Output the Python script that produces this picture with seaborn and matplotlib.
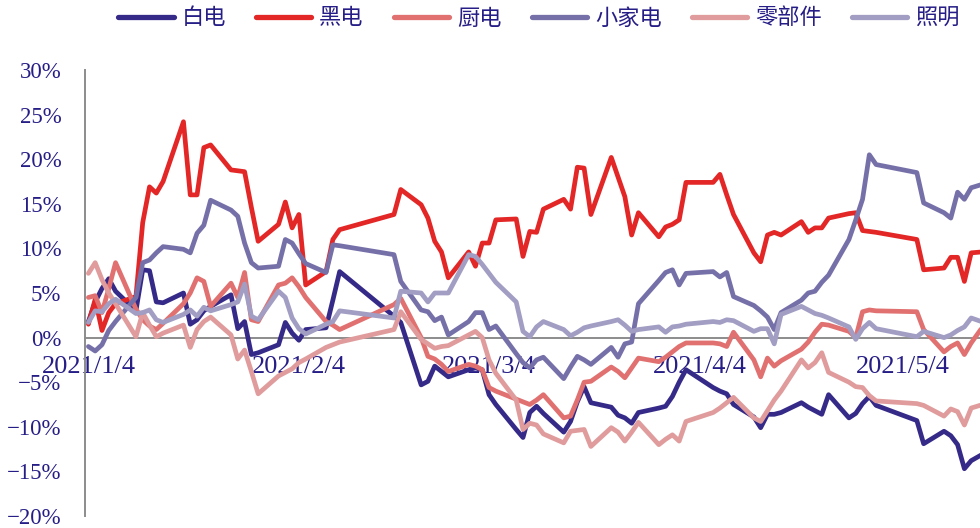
import matplotlib
matplotlib.use("Agg")
import matplotlib.pyplot as plt
from matplotlib.lines import Line2D
import pandas as pd
import seaborn as sns

# trading days 2021/1/4 - 2021/5/17 (A-share holidays removed)
holidays = ["2021-02-11", "2021-02-12", "2021-02-15", "2021-02-16", "2021-02-17",
            "2021-04-05", "2021-05-03", "2021-05-04", "2021-05-05"]
dates = pd.bdate_range("2021-01-04", "2021-05-17", freq="C", holidays=holidays)

# cumulative return, %
baidian = [1.8, 4.0, 5.5, 6.6, 5.2, 3.0, 7.6, 7.5, 4.0, 3.9, 5.0, 1.5, 2.0, 3.0, 3.5, 4.8, 1.0, 1.8, -1.9, -1.7,
           -0.8, 1.7, 0.5, -0.3, 0.9, 1.1, 4.2, 7.4, 2.4, 1.7, -5.3, -4.9, -3.2, -3.8, -4.4,
           -3.6, -3.4, -3.6, -6.4, -7.5, -10.3, -11.2, -8.4, -7.7, -8.5, -10.6, -9.4, -7.2, -5.5, -7.3, -7.8, -8.7, -9.0, -9.6, -8.4, -7.9, -7.7, -6.6,
           -5.0, -3.6, -5.6, -6.0, -6.3, -7.5, -8.9, -10.1, -8.6, -8.6, -8.4, -7.3, -7.8, -8.2, -8.6, -6.4, -9.0, -8.5, -7.4, -6.6, -7.6,
           -9.3, -11.9, -10.5, -11.0, -12.0, -14.7, -13.8, -12.5]
heidian = [1.5, 4.3, 0.8, 2.8, 3.8, 4.6, 12.9, 16.9, 16.2, 17.5, 24.2, 16.0, 16.0, 21.3, 21.6, 18.8, 18.7, 18.6, 14.6, 10.8,
           12.7, 15.2, 12.3, 13.8, 5.9, 7.4, 11.0, 12.1, 13.8, 16.6, 14.9, 13.4, 10.8, 9.6, 6.7,
           9.6, 8.0, 10.6, 10.6, 13.2, 13.3, 9.1, 11.9, 11.8, 14.4, 15.5, 14.4, 19.1, 19.0, 13.8, 20.2, 18.0, 15.8, 11.5, 14.0, 11.3, 12.4, 12.7,
           13.2, 17.4, 17.4, 18.3, 16.0, 13.8, 9.5, 8.5, 11.5, 11.8, 11.5, 13.0, 11.8, 12.3, 12.3, 13.4, 13.9, 14.0, 12.0, 11.9, 11.8,
           11.0, 7.6, 7.8, 9.0, 9.0, 6.3, 9.5, 9.7]
chudian = [4.5, 4.7, 2.8, 5.5, 8.4, 3.2, 2.0, 1.3, 0.9, 1.6, 3.8, 5.0, 6.7, 6.3, 3.5, 6.1, 4.5, 7.3, 2.0, 1.8,
           5.9, 6.1, 6.7, 5.7, 4.5, 1.8, 1.4, 0.9, 3.7, 4.4, 0.0, -2.1, -2.4, -3.0, -3.8,
           -3.0, -3.2, -3.6, -5.6, -6.0, -6.9, -7.2, -7.5, -7.0, -6.4, -9.0, -8.8, -7.0, -5.0, -4.9, -3.3, -3.8, -4.5, -3.4, -2.3, -2.7, -2.2, -1.6,
           -1.0, -0.6, -0.6, -0.7, -1.0, 0.6, -2.5, -4.4, -2.3, -3.2, -2.6, -1.3, -0.5, 0.6, 1.5, 1.4, 0.7, 0.0, 2.9, 3.1, 3.0,
           2.9, 0.9, -1.6, -1.0, -0.6, -1.9, -0.6, 2.6]
xiaojiadian = [-1.0, -1.5, -0.8, 0.8, 1.8, 4.5, 8.4, 8.7, 9.5, 10.2, 9.9, 9.5, 11.7, 12.6, 15.4, 14.3, 13.6, 10.6, 8.4, 7.8,
               8.0, 11.0, 10.6, 9.4, 8.3, 7.3, 10.4, 10.3, 9.3, 6.3, 3.1, 2.9, 1.9, 2.3, 0.3,
               1.8, 2.8, 2.8, 0.9, 1.3, -1.8, -2.8, -3.4, -2.5, -2.2, -4.6, -3.3, -2.1, -2.5, -3.0, -1.1, -2.2, -0.7, -0.5, 3.8, 6.4, 7.3, 7.6,
               5.9, 7.2, 7.4, 6.8, 7.3, 4.6, 3.6, 3.0, 2.3, 0.9, 2.8, 4.2, 5.0, 5.2, 6.2, 7.0, 11.0, 13.2, 15.5, 20.5, 19.4,
               18.5, 15.1, 14.0, 13.4, 16.3, 15.5, 16.8, 17.5]
lingbujian = [7.2, 8.4, 6.5, 5.0, 3.8, 0.1, 2.8, 1.4, 0.1, 0.5, 1.4, -1.1, 0.9, 1.8, 2.3, 0.3, -2.4, -1.4, -3.8, -6.3,
              -4.3, -3.9, -3.5, -2.8, -2.4, -1.1, -0.8, -0.5, 0.9, 2.9, -0.2, -0.7, -1.2, -1.0, -0.9,
              0.3, 0.7, 0.0, -2.5, -4.0, -7.0, -10.3, -9.6, -9.8, -10.8, -11.8, -10.5, -10.4, -10.3, -12.2, -10.1, -10.6, -11.6, -10.6, -9.5, -12.0, -11.4, -10.9,
              -11.6, -9.4, -8.4, -7.9, -7.3, -6.7, -9.0, -9.4, -8.2, -7.0, -6.0, -2.5, -3.4, -2.8, -1.7, -3.9, -5.0, -5.5, -5.6, -6.5, -7.1,
              -7.4, -7.6, -8.8, -8.0, -8.3, -9.8, -7.9, -7.2]
zhaoming = [1.7, 3.0, 2.9, 3.8, 4.3, 2.7, 2.8, 3.1, 2.0, 1.7, 2.6, 3.1, 2.4, 3.4, 3.0, 3.7, 4.0, 6.0, 2.4, 2.0,
            5.2, 4.5, 2.2, 1.0, 0.4, 1.5, 1.8, 3.0, 2.2, 5.2, 5.0, 4.0, 5.0, 5.0, 5.0,
            9.3, 9.1, 8.2, 7.2, 6.2, 4.0, 0.7, 0.1, 1.2, 1.8, 0.9, 0.2, 0.6, 1.1, 1.3, 1.8, 2.0, 1.4, 0.7, 0.9, 1.2, 0.6, 1.2,
            1.3, 1.5, 1.8, 1.7, 2.0, 1.9, 0.7, 1.0, 1.0, -0.7, 2.6, 3.5, 3.1, 2.7, 2.5, 2.2, 1.2, -0.2, 1.0, 1.7, 1.0,
            0.1, 0.7, 0.0, 0.3, 0.8, 1.2, 2.2, 1.4]

series_names = ["白电", "黑电", "厨电", "小家电", "零部件", "照明"]
colors = ["#352A88", "#E32727", "#E07170", "#7670A9", "#E09C9C", "#A19DC3"]
xtick_labels = ["2021/1/4", "2021/2/4", "2021/3/4", "2021/4/4", "2021/5/4"]
ytick_values = [-20, -15, -10, -5, 0, 5, 10, 15, 20, 25, 30]

wide = pd.DataFrame(dict(zip(series_names, [baidian, heidian, chudian, xiaojiadian, lingbujian, zhaoming])), index=dates)
wide.index.name = "date"
df = wide.reset_index().melt(id_vars="date", var_name="板块", value_name="涨跌幅")

sns.set_theme(style="white")
plt.rcParams["font.family"] = ["Liberation Serif", "Noto Sans CJK SC"]
plt.rcParams["axes.unicode_minus"] = True

navy = "#261E86"
grey = "#8C8C8C"

fig = plt.figure(figsize=(9.8, 5.28), dpi=100)
ax = fig.add_axes([85 / 980, 12 / 528, 895 / 980, 446 / 528])

sns.lineplot(data=df, x="date", y="涨跌幅", hue="板块", hue_order=series_names,
             palette=colors, linewidth=3.4, legend=False, ax=ax)

ax.set_ylim(-20, 30)
ax.set_yticks(ytick_values)
ax.set_yticklabels([f"{v}%".replace("-", "\u2212") for v in ytick_values])
ax.set_xlim(dates[0] - pd.Timedelta(days=0.5), dates[0] + pd.Timedelta(days=131.3))
ax.set_xticks(pd.to_datetime(xtick_labels, format="%Y/%m/%d"))
ax.set_xticklabels(xtick_labels)
ax.set_xlabel("")
ax.set_ylabel("")

for side in ["top", "right"]:
    ax.spines[side].set_visible(False)
ax.spines["left"].set_color(grey)
ax.spines["left"].set_linewidth(1.4)
ax.spines["bottom"].set_color(grey)
ax.spines["bottom"].set_linewidth(1.4)
ax.spines["bottom"].set_position(("data", 0))
ax.spines["bottom"].set_zorder(1)

ax.tick_params(axis="y", direction="in", length=6, width=1.4, color=grey,
               pad=17, labelsize=16.5, labelcolor=navy)
ax.tick_params(axis="x", direction="in", length=5, width=1.2, color=grey,
               pad=13, labelsize=19, labelcolor=navy)

handles = [Line2D([], [], color=c, lw=3.8, solid_capstyle="round") for c in colors]
fig.legend(handles, series_names, loc="center left", bbox_to_anchor=(118 / 980, 1 - 18 / 528),
           ncol=6, frameon=False, handlelength=2.5, handletextpad=0.35, columnspacing=1.35,
           borderpad=0, borderaxespad=0, labelcolor=navy,
           prop={"family": ["Noto Sans CJK SC"], "size": 16})

fig.savefig("out.png", dpi=100)
